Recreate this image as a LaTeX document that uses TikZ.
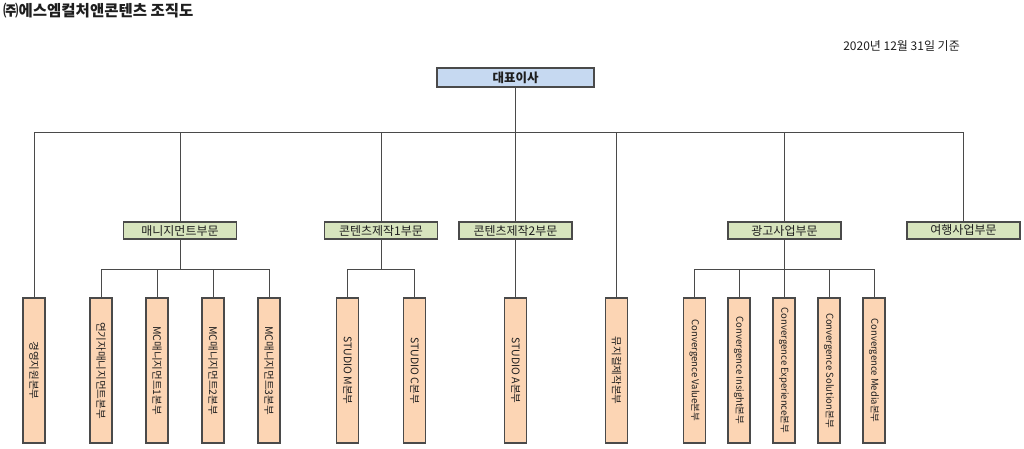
\documentclass[tikz,border=0pt]{standalone}
\usepackage{fontspec}
\setmainfont{Noto Sans CJK KR}
\usepackage{graphicx}
\definecolor{ceofill}{HTML}{C6D9F1}
\definecolor{divfill}{HTML}{D7E4BD}
\definecolor{unitfill}{HTML}{FCD5B4}
\definecolor{edgecol}{HTML}{4A4A4A}
\definecolor{txtcol}{HTML}{1E1E1E}
\tikzset{
  boxbase/.style={draw=edgecol, line width=1.1pt, inner sep=0pt, text=txtcol},
  ceobox/.style={boxbase, fill=ceofill, minimum width=157pt, minimum height=19pt, font=\fontsize{12.5}{14}\selectfont\bfseries},
  divbox/.style={boxbase, fill=divfill, minimum width=113pt, minimum height=17pt, font=\fontsize{12}{13}\selectfont},
  unitbox/.style={boxbase, fill=unitfill, minimum width=22pt, minimum height=145pt, font=\fontsize{10.5}{12}\selectfont},
  convbox/.style={unitbox, font=\fontsize{9.5}{11}\selectfont},
  link/.style={draw=edgecol, line width=0.9pt},
}
\newcommand{\vtext}[1]{\rotatebox[origin=c]{-90}{#1}}
\begin{document}
\begin{tikzpicture}[x=1pt,y=-1pt]
\useasboundingbox (0,0) rectangle (1024,448);
\node[anchor=west, font=\fontsize{15.5}{17}\selectfont\bfseries, text=txtcol, inner sep=0pt] (title) at (3,11) {㈜에스엠컬처앤콘텐츠 조직도};
\node[anchor=east, font=\fontsize{12}{14}\selectfont, text=txtcol, inner sep=0pt] (date) at (960,46) {2020년 12월 31일 기준};

\node[ceobox] (ceo) at (515.5,77.5) {대표이사};

\node[divbox] (mgmt) at (180,230.5) {매니지먼트부문};
\node[divbox] (cont1) at (381,230.5) {콘텐츠제작1부문};
\node[divbox] (cont2) at (515.5,230.5) {콘텐츠제작2부문};
\node[divbox] (adv) at (784.5,230.5) {광고사업부문};
\node[divbox] (trav) at (963.5,230.5) {여행사업부문};

\node[unitbox] (u1) at (34,370.5) {\vtext{경영지원본부}};
\node[unitbox] (u2) at (101,370.5) {\vtext{연기자매니지먼트본부}};
\node[unitbox] (u3) at (157,370.5) {\vtext{MC매니지먼트1본부}};
\node[unitbox] (u4) at (213,370.5) {\vtext{MC매니지먼트2본부}};
\node[unitbox] (u5) at (269,370.5) {\vtext{MC매니지먼트3본부}};
\node[unitbox] (u6) at (347.5,370.5) {\vtext{STUDIO M본부}};
\node[unitbox] (u7) at (414.5,370.5) {\vtext{STUDIO C본부}};
\node[unitbox] (u8) at (515.5,370.5) {\vtext{STUDIO A본부}};
\node[unitbox] (u9) at (616.5,370.5) {\vtext{뮤지컬제작본부}};
\node[convbox] (u10) at (694.5,370.5) {\vtext{Convergence Value본부}};
\node[convbox] (u11) at (739,370.5) {\vtext{Convergence Insight본부}};
\node[convbox] (u12) at (784,370.5) {\vtext{Convergence Experience본부}};
\node[convbox] (u13) at (829,370.5) {\vtext{Convergence Solution본부}};
\node[convbox] (u14) at (874,370.5) {\vtext{Convergence Media본부}};

% CEO to level 2
\foreach \c in {u1,mgmt,cont1,cont2,u9,adv,trav}
  \draw[link] (ceo.south) -- ++(0,44.5) -| (\c.north);

% level 2 to units
\foreach \c in {u2,u3,u4,u5}
  \draw[link] (mgmt.south) -- ++(0,30) -| (\c.north);
\foreach \c in {u6,u7}
  \draw[link] (cont1.south) -- ++(0,30) -| (\c.north);
\draw[link] (cont2.south) -- (u8.north);
\foreach \c in {u10,u11,u12,u13,u14}
  \draw[link] (adv.south) -- ++(0,30) -| (\c.north);
\end{tikzpicture}
\end{document}
